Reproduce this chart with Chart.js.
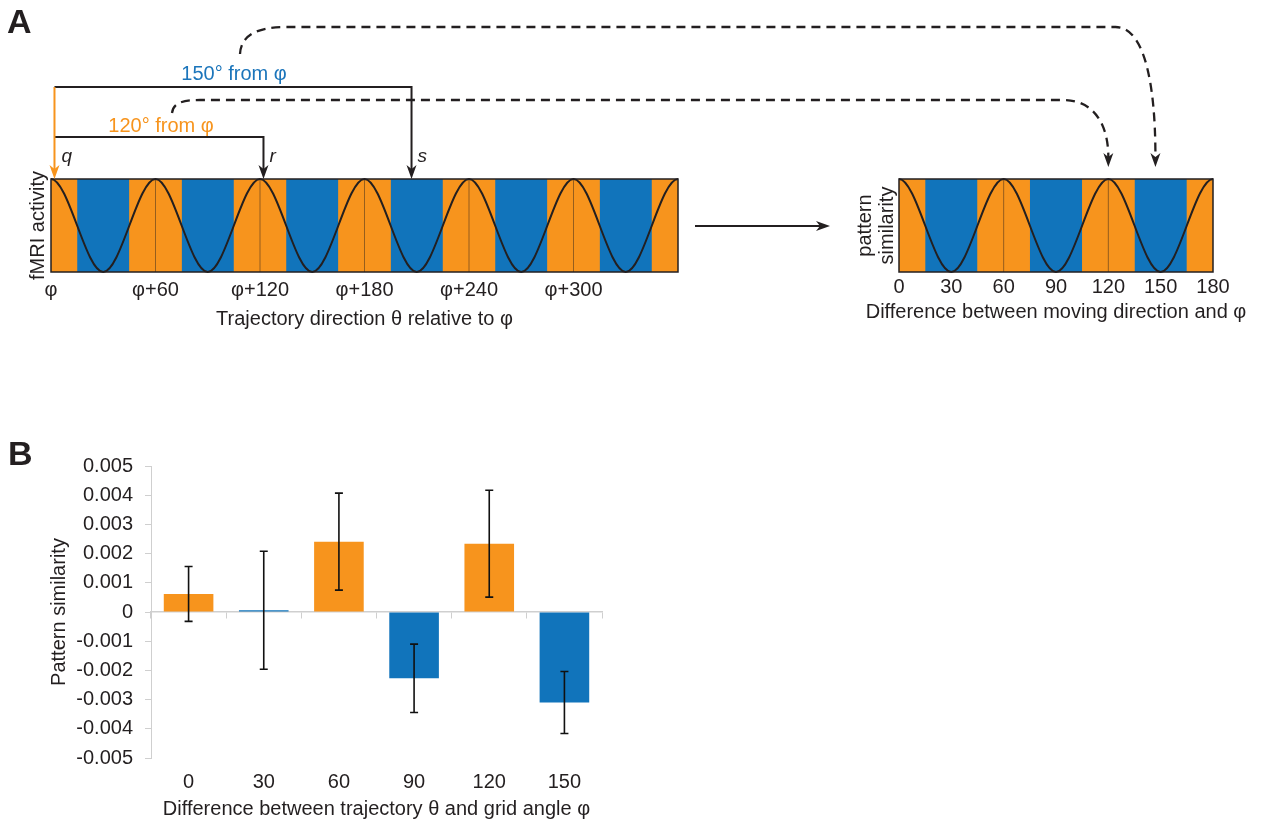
<!DOCTYPE html>
<html>
<head>
<meta charset="utf-8">
<script src="https://cdn.jsdelivr.net/npm/chart.js@4.4.1/dist/chart.umd.min.js"></script>
<style>
  body { margin: 0; background: #fff; width: 1267px; height: 825px; position: relative; overflow: hidden; }
  canvas { position: absolute; }
  svg { position: absolute; left: 0; top: 0; pointer-events: none; }
</style>
</head>
<body>
<canvas id="stripLeft" width="700" height="180" style="left:0;top:160px"></canvas>
<canvas id="stripRight" width="427" height="180" style="left:840px;top:160px"></canvas>
<canvas id="barsB" width="640" height="385" style="left:0;top:440px"></canvas>
<svg id="notes" width="1267" height="825"></svg>
<script>
Chart.defaults.font.family = '"Liberation Sans", Arial, sans-serif';

const ORANGE = '#f7941d';
const BLUE = '#1174bb';
const INK = '#231f20';

// ---------- panel A, left strip: trajectory direction relative to phi (deg)
const leftRange = [0, 360];
const leftBlueBands = [[15, 45], [75, 105], [135, 165], [195, 225], [255, 285], [315, 345]];
const leftCurveX = [-30, 0, 30, 60, 90, 120, 150, 180, 210, 240, 270, 300, 330, 360, 390];
const leftCurveY = [-1, 1, -1, 1, -1, 1, -1, 1, -1, 1, -1, 1, -1, 1, -1];
const leftPeakLines = [60, 120, 180, 240, 300];
const leftTickVals = [0, 60, 120, 180, 240, 300];
const leftTickLabels = ['φ', 'φ+60', 'φ+120', 'φ+180', 'φ+240', 'φ+300'];

// ---------- panel A, right strip: difference between moving direction and phi
const rightRange = [0, 180];
const rightBlueBands = [[15, 45], [75, 105], [135, 165]];
const rightCurveX = [-30, 0, 30, 60, 90, 120, 150, 180, 210];
const rightCurveY = [-1, 1, -1, 1, -1, 1, -1, 1, -1];
const rightPeakLines = [60, 120];
const rightTickVals = [0, 30, 60, 90, 120, 150, 180];
const rightTickLabels = ['0', '30', '60', '90', '120', '150', '180'];

// q, r, s markers on left strip, dashed targets on right strip
const markAngles = [2, 122, 207];
const targetAngles = [120, 147];

// ---------- panel B
const angleLabels = ['0', '30', '60', '90', '120', '150'];
const similarity = [0.00062, 0.00006, 0.00241, -0.00227, 0.00234, -0.00310];
const sem = [0.00094, 0.00202, 0.00166, 0.00117, 0.00183, 0.00106];
const barColors = [ORANGE, BLUE, ORANGE, BLUE, ORANGE, BLUE];

const frame = {
  id: 'frame',
  afterDatasetsDraw(chart) {
    const a = chart.chartArea, ctx = chart.ctx;
    ctx.save();
    ctx.strokeStyle = INK;
    ctx.lineWidth = 1.5;
    ctx.strokeRect(a.left, a.top, a.right - a.left, a.bottom - a.top);
    ctx.restore();
  }
};

function strip(id, o) {
  const ds = [];
  ds.push({ data: o.curveX.map((x, i) => ({ x: x, y: o.curveY[i] })), borderColor: INK, borderWidth: 2,
            pointRadius: 0, cubicInterpolationMode: 'monotone', fill: false, order: 0,
            clip: { left: 0, right: 0, top: 2, bottom: 2 } });
  const pl = [];
  o.peaks.forEach(p => pl.push({ x: p, y: -1 }, { x: p, y: 1 }, { x: p, y: null }));
  ds.push({ data: pl, borderColor: 'rgba(70,50,30,0.55)', borderWidth: 1, pointRadius: 0, spanGaps: false, fill: false, order: 1 });
  o.blue.forEach(b => ds.push({ data: [{ x: b[0], y: 1 }, { x: b[1], y: 1 }], borderColor: 'rgba(0,0,0,0)',
            pointRadius: 0, fill: { value: -1 }, backgroundColor: BLUE, order: 2 }));
  ds.push({ data: [{ x: o.range[0], y: 1 }, { x: o.range[1], y: 1 }], borderColor: 'rgba(0,0,0,0)',
            pointRadius: 0, fill: { value: -1 }, backgroundColor: ORANGE, order: 3 });

  return new Chart(document.getElementById(id), {
    type: 'line',
    data: { datasets: ds },
    options: {
      responsive: false, animation: false,
      layout: { padding: o.pad },
      plugins: { legend: { display: false }, tooltip: { enabled: false } },
      scales: {
        x: {
          type: 'linear', min: o.range[0], max: o.range[1],
          afterFit: s => { s.height = o.xH; },
          afterBuildTicks: s => { s.ticks = o.ticks.map(v => ({ value: v })); },
          grid: { display: false, drawTicks: false }, border: { display: false },
          ticks: { autoSkip: false, maxRotation: 0, padding: o.tickPad, color: INK, font: { size: 20 },
                   callback: (v, i) => o.labels[i] },
          title: { display: !!o.xTitle, text: o.xTitle || '', color: INK, font: { size: 20 }, padding: { top: 0, bottom: 4 } }
        },
        y: {
          min: -1, max: 1,
          afterFit: s => { s.width = o.yW; },
          grid: { display: false }, border: { display: false }, ticks: { display: false },
          title: { display: true, text: o.yTitle, color: INK, font: { size: 20, lineHeight: 1.12 }, padding: { top: 4, bottom: 0 } }
        }
      }
    },
    plugins: [frame]
  });
}

const left = strip('stripLeft', {
  range: leftRange, blue: leftBlueBands, curveX: leftCurveX, curveY: leftCurveY, peaks: leftPeakLines,
  ticks: leftTickVals, labels: leftTickLabels, xTitle: 'Trajectory direction θ relative to φ', yTitle: 'fMRI activity',
  pad: { left: 23, right: 22, top: 19, bottom: 5 }, yW: 28, xH: 63, tickPad: 6
});

const right = strip('stripRight', {
  range: rightRange, blue: rightBlueBands, curveX: rightCurveX, curveY: rightCurveY, peaks: rightPeakLines,
  ticks: rightTickVals, labels: rightTickLabels, xTitle: null,
  yTitle: ['pattern', 'similarity'],
  pad: { left: 10, right: 54, top: 19, bottom: 14 }, yW: 49, xH: 54, tickPad: 3
});

// error bars for panel B
const errorBars = {
  id: 'errorBars',
  afterDatasetsDraw(chart) {
    const ctx = chart.ctx, y = chart.scales.y;
    const meta = chart.getDatasetMeta(0);
    ctx.save();
    ctx.strokeStyle = '#111';
    ctx.lineWidth = 1.6;
    meta.data.forEach((bar, i) => {
      const v = similarity[i], e = sem[i];
      const t = y.getPixelForValue(v + e), b = y.getPixelForValue(v - e);
      ctx.beginPath();
      ctx.moveTo(bar.x, t); ctx.lineTo(bar.x, b);
      ctx.moveTo(bar.x - 4, t); ctx.lineTo(bar.x + 4, t);
      ctx.moveTo(bar.x - 4, b); ctx.lineTo(bar.x + 4, b);
      ctx.stroke();
    });
    ctx.restore();
  }
};

new Chart(document.getElementById('barsB'), {
  type: 'bar',
  data: {
    labels: angleLabels,
    datasets: [{ data: similarity, backgroundColor: barColors, barPercentage: 0.66, categoryPercentage: 1 }]
  },
  options: {
    responsive: false, animation: false,
    layout: { padding: { left: 43, right: 38, top: 26, bottom: 0 } },
    plugins: { legend: { display: false }, tooltip: { enabled: false } },
    scales: {
      x: {
        afterFit: s => { s.height = 67; },
        grid: { display: false, drawTicks: false }, border: { display: false },
        ticks: { padding: 12, color: INK, font: { size: 20 } },
        title: { display: true, text: 'Difference between trajectory θ and grid angle φ', color: INK,
                 font: { size: 20 }, padding: { top: 0, bottom: 4 } }
      },
      zero: {
        type: 'category', axis: 'x', position: { y: 0 }, offset: true,
        grid: { offset: true, drawOnChartArea: false, tickLength: 6, color: '#cfcfcf' },
        border: { color: '#cfcfcf', width: 1.5 },
        ticks: { display: false }
      },
      y: {
        min: -0.005, max: 0.005,
        afterFit: s => { s.width = 108; },
        ticks: { stepSize: 0.001, padding: 12, color: INK, font: { size: 20 },
                 callback: v => Math.abs(v) < 1e-9 ? '0' : v.toFixed(3) },
        grid: { drawOnChartArea: false, tickLength: 6, color: '#cfcfcf' },
        border: { color: '#cfcfcf' },
        title: { display: true, text: 'Pattern similarity', color: INK, font: { size: 20 }, padding: { top: 4, bottom: 0 } }
      }
    }
  },
  plugins: [errorBars]
});

// ---------- annotations for panel A
const svg = document.getElementById('notes');
const NS = 'http://www.w3.org/2000/svg';
function el(tag, attrs, text) {
  const e = document.createElementNS(NS, tag);
  for (const k in attrs) e.setAttribute(k, attrs[k]);
  if (text) e.textContent = text;
  svg.appendChild(e);
  return e;
}
function headDown(x, tip, color) {
  el('path', { d: `M${x} ${tip} L${x - 5} ${tip - 14} L${x} ${tip - 10} L${x + 5} ${tip - 14} Z`, fill: color });
}

const lx = v => left.scales.x.getPixelForValue(v) + 0;
const rx = v => right.scales.x.getPixelForValue(v) + 840;
const stripTop = left.chartArea.top + 160;
const [qx, rrx, sx] = markAngles.map(lx);
const yHigh = 87, yLow = 137;

// brackets
el('path', { d: `M${qx} ${yHigh} L${sx} ${yHigh} L${sx} ${stripTop - 6}`, stroke: INK, 'stroke-width': 2, fill: 'none' });
el('path', { d: `M${qx} ${yLow} L${rrx} ${yLow} L${rrx} ${stripTop - 6}`, stroke: INK, 'stroke-width': 2, fill: 'none' });
el('path', { d: `M${qx} ${yHigh} L${qx} ${stripTop - 6}`, stroke: ORANGE, 'stroke-width': 2, fill: 'none' });
headDown(sx, stripTop, INK);
headDown(rrx, stripTop, INK);
headDown(qx, stripTop, ORANGE);

const tf = 'font-family:"Liberation Sans",Arial,sans-serif';
el('text', { x: 234, y: 80, 'text-anchor': 'middle', fill: '#1b75bb', 'font-size': 20, style: tf }, '150° from φ');
el('text', { x: 161, y: 132, 'text-anchor': 'middle', fill: ORANGE, 'font-size': 20, style: tf }, '120° from φ');
el('text', { x: qx + 7, y: 162, fill: INK, 'font-size': 19, 'font-style': 'italic', style: tf }, 'q');
el('text', { x: rrx + 6, y: 162, fill: INK, 'font-size': 19, 'font-style': 'italic', style: tf }, 'r');
el('text', { x: sx + 6, y: 162, fill: INK, 'font-size': 19, 'font-style': 'italic', style: tf }, 's');

// x title of the right strip (wider than its plot area)
const rca = right.chartArea;
el('text', { x: (rca.left + rca.right) / 2 + 840, y: 318, 'text-anchor': 'middle', fill: INK, 'font-size': 20, style: tf },
   'Difference between moving direction and φ');

// dashed links to the right strip
const [t120, t150] = targetAngles.map(rx);
const tipY = rca.top + 160 - 12;
const dash = { stroke: INK, 'stroke-width': 2.3, 'stroke-dasharray': '9 6', fill: 'none' };
el('path', Object.assign({ d: `M240 54 C241 36 256 27 285 27 L${t150 - 40} 27 C${t150 - 12} 27 ${t150} 80 ${t150} ${tipY - 10}` }, dash));
el('path', Object.assign({ d: `M172 113 C173 104 180 100 200 100 L${t120 - 45} 100 C${t120 - 14} 100 ${t120} 125 ${t120} ${tipY - 10}` }, dash));
headDown(t150, tipY, INK);
headDown(t120, tipY, INK);

// arrow between strips
const midY = 226;
el('path', { d: `M695 ${midY} L820 ${midY}`, stroke: INK, 'stroke-width': 2, fill: 'none' });
el('path', { d: `M830 ${midY} L816 ${midY - 5} L820 ${midY} L816 ${midY + 5} Z`, fill: INK });

// panel letters
el('text', { x: 7, y: 33, 'font-size': 34, 'font-weight': 'bold', fill: INK, style: tf }, 'A');
el('text', { x: 8, y: 465, 'font-size': 34, 'font-weight': 'bold', fill: INK, style: tf }, 'B');
</script>
</body>
</html>
